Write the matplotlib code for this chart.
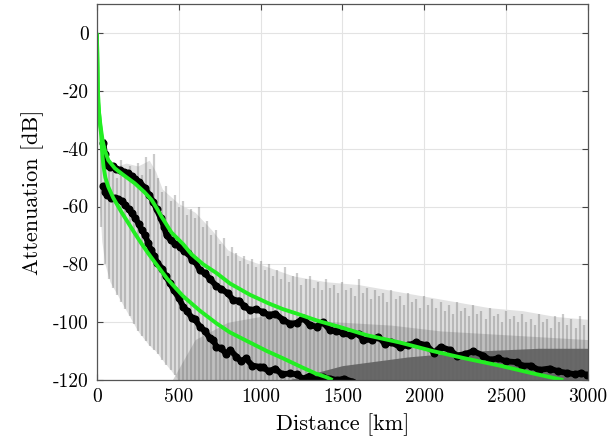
import matplotlib
matplotlib.use("Agg")
import matplotlib.pyplot as plt
import numpy as np

# ---------------- data ----------------
fit_hi_x = [0, 2, 4, 6, 9, 14, 20, 27, 36, 50, 70, 110, 160, 232, 290, 334, 365, 395, 456, 527, 578, 650,
            731, 813, 935, 1050, 1138, 1220, 1350, 1505, 1650, 1851, 2055, 2250, 2462, 2650, 2850]
fit_hi_y = [0, -6, -12, -19, -24, -28, -31, -34, -37.5, -40.8, -44, -46.8, -49, -52, -55, -57.7, -60.5, -63.5,
            -69, -73, -76.5, -80, -83, -86.6, -90.5, -93.5, -95.5, -97, -99.5, -102, -104.5, -107, -110,
            -112.5, -115, -117.5, -120]

fit_lo_x = [0, 2, 4, 6, 9, 14, 20, 26, 31, 36, 41, 52, 69, 100, 151, 190, 232, 275, 314, 370, 430, 527,
            629, 731, 813, 935, 1040, 1138, 1250, 1340, 1403, 1440]
fit_lo_y = [0, -6, -12, -19, -24, -28, -32, -35, -40, -43.5, -46.2, -50, -53.1, -57, -62, -65.5, -69.3,
            -73, -76.2, -80.5, -85, -91, -96, -100.4, -103.5, -107, -110, -112.5, -115.5, -117.8, -119, -120]

mean_hi_x = [40, 50, 65, 80, 100, 120, 140, 165, 190, 212, 235, 260, 293, 320, 345, 365, 390, 410, 426, 450,
             480, 510, 530, 558, 580, 600, 629, 660, 690, 731, 760, 800, 833, 870, 900, 935, 970, 1016,
             1050, 1090, 1138, 1180, 1220, 1260, 1300, 1342, 1380, 1424, 1460, 1505, 1550, 1600, 1627,
             1680, 1720, 1760, 1800, 1851, 1900, 1950, 2014, 2060, 2100, 2157, 2200, 2250, 2300, 2361,
             2400, 2450, 2500, 2564, 2600, 2650, 2700, 2767, 2820, 2870, 2920, 2960, 2995]
mean_hi_y = [-38, -42, -45.5, -46.5, -46, -47, -47.5, -48, -48.5, -49.5, -50.5, -51.5, -53.5, -56, -58.5,
             -61, -64, -67, -70, -71.5, -73, -74, -75.5, -76, -78.5, -79, -82, -83, -85, -87.5, -88.5,
             -90, -92.3, -92.5, -94.5, -95.8, -95.5, -96.5, -97.5, -97, -99.2, -100.5, -100.3, -98.5,
             -101, -101.5, -100, -102.7, -103, -103.8, -104.5, -104, -106.2, -106, -105, -107.5, -107,
             -108.5, -108, -107, -108, -110.5, -108.5, -109.6, -111.5, -111, -110, -111.5, -113, -112.5,
             -113.5, -113.8, -115, -115, -116.5, -116, -117, -117.5, -118, -117.5, -118.3]

mean_lo_x = [40, 50, 65, 85, 110, 130, 151, 175, 195, 212, 235, 255, 273, 295, 314, 330, 350, 370, 400,
             420, 446, 470, 500, 527, 550, 580, 600, 629, 660, 690, 710, 731, 760, 790, 813, 853, 880,
             910, 950, 995, 1016, 1050, 1090, 1130, 1179, 1220, 1260, 1300, 1340, 1380, 1424, 1470,
             1510, 1560]
mean_lo_y = [-53, -55, -56, -57, -57, -57.5, -58, -59.5, -61, -62.3, -64, -66, -68, -70, -72.7, -75, -77,
             -79.5, -81.5, -84, -86.5, -89, -91.5, -94.6, -96, -98.5, -99, -101.5, -103, -105.5, -106,
             -108.5, -109, -111, -109.5, -111.9, -113.5, -112.5, -115, -115.4, -115.5, -117, -116, -118,
             -117.7, -118, -119.5, -118.5, -120, -119, -119.5, -120, -119.5, -120.5]

# spread of the individual realisations (grey band)
light_x = [18, 30, 50, 80, 120, 180, 250, 320, 360, 400, 500, 600, 700, 800, 900, 1000, 1200, 1400,
           1600, 1800, 2000, 2200, 2400, 2600, 2800, 3000]
light_top = [-42, -41, -43, -45, -46, -45, -46, -44, -48, -54, -59, -62, -68, -75, -78, -80, -84, -86,
             -87, -89, -91, -93, -95, -96, -98, -99]
light_bot = [-60, -72, -80, -86, -90, -96, -103, -108, -110, -113, -120, -125, -125, -125, -125, -125,
             -125, -125, -125, -125, -125, -125, -125, -125, -125, -125]

mid_x = [450, 600, 800, 1000, 1200, 1500, 1800, 2100, 2400, 2700, 3000]
mid_top = [-121, -106, -100, -98, -99, -100, -101, -103, -104, -105, -106]

dark_x = [1100, 1500, 1900, 2300, 2700, 3000]
dark_top = [-121, -115, -112, -110, -109, -109]

streaks = [(25, -40), (50, -44), (75, -47), (100, -45), (125, -50), (150, -44), (175, -48), (200, -46),
           (225, -51), (250, -45), (275, -49), (300, -43), (325, -47), (350, -42), (375, -50), (400, -55),
           (425, -53), (450, -58), (475, -56), (500, -60), (525, -58), (550, -63), (575, -61), (600, -64),
           (625, -60), (650, -67), (675, -65), (700, -70), (725, -68), (750, -73), (775, -71), (800, -77),
           (825, -74), (850, -76), (875, -79), (900, -77), (925, -80), (950, -78), (975, -81), (1000, -79),
           (1025, -82), (1050, -80), (1075, -84), (1100, -82), (1125, -85), (1150, -81), (1175, -86),
           (1200, -84), (1225, -83), (1250, -87), (1275, -85), (1300, -84), (1325, -88), (1350, -86),
           (1375, -89), (1400, -85), (1425, -88), (1450, -87), (1475, -90), (1500, -86), (1525, -89),
           (1550, -88), (1575, -91), (1600, -85), (1625, -90), (1650, -88), (1675, -92), (1700, -89),
           (1725, -91), (1750, -90), (1775, -93), (1800, -89), (1825, -92), (1850, -91), (1875, -94),
           (1900, -90), (1925, -93), (1950, -92), (1975, -95), (2000, -91), (2025, -94), (2050, -92),
           (2075, -95), (2100, -93), (2125, -96), (2150, -94), (2175, -97), (2200, -93), (2225, -96),
           (2250, -95), (2275, -98), (2300, -94), (2325, -97), (2350, -96), (2375, -99), (2400, -95),
           (2425, -98), (2450, -97), (2475, -100), (2500, -96), (2525, -99), (2550, -98), (2575, -100),
           (2600, -97), (2625, -100), (2650, -99), (2675, -101), (2700, -97), (2725, -100), (2750, -99),
           (2775, -102), (2800, -98), (2825, -100), (2850, -97), (2875, -101), (2900, -99), (2925, -102),
           (2950, -98), (2975, -101)]

x_ticks = [0, 500, 1000, 1500, 2000, 2500, 3000]
y_ticks = [-120, -100, -80, -60, -40, -20, 0]

# ---------------- figure ----------------
plt.rcParams['font.family'] = ['cmr10', 'DejaVu Serif']
plt.rcParams['axes.unicode_minus'] = False
plt.rcParams['mathtext.fontset'] = 'cm'

fig = plt.figure(figsize=(6.13, 4.43), dpi=100)
ax = fig.add_axes([0.158, 0.142, 0.801, 0.849])

ax.fill_between(light_x, light_top, light_bot, color='#e2e2e2', lw=0, zorder=1)
ax.fill_between(mid_x, mid_top, -125, color='#a0a0a0', alpha=0.5, lw=0, zorder=1.2)
ax.fill_between(dark_x, dark_top, -125, color='#303030', alpha=0.6, lw=0, zorder=1.4)

sx = [s[0] for s in streaks]
st = [s[1] for s in streaks]
sb = np.interp(sx, light_x, light_bot)
ax.vlines(sx, sb, st, colors='#606060', alpha=0.32, lw=1.6, zorder=1.6)

ax.plot(mean_hi_x, mean_hi_y, color='black', lw=4.2, marker='o', ms=4.8, zorder=3)
ax.plot(mean_lo_x, mean_lo_y, color='black', lw=4.2, marker='o', ms=4.8, zorder=3)

ax.plot(fit_hi_x, fit_hi_y, color='#22ee22', lw=2.8, zorder=4, solid_capstyle='butt')
ax.plot(fit_lo_x, fit_lo_y, color='#22ee22', lw=2.8, zorder=4, solid_capstyle='butt')

ax.set_xlim(0, 3000)
ax.set_ylim(-120, 10)
ax.set_xticks(x_ticks)
ax.set_yticks(y_ticks)
ax.tick_params(direction='in', length=4, width=0.8, top=True, right=True, labelsize=14,
               color='#444444', pad=6)
ax.grid(True, color='#e3e3e3', lw=0.8, zorder=0)
ax.set_axisbelow(True)
for s in ax.spines.values():
    s.set_color('#555555')
    s.set_linewidth(0.9)
    s.set_zorder(5)

ax.set_xlabel('Distance [km]', fontsize=16, labelpad=5)
ax.set_ylabel('Attenuation [dB]', fontsize=16, labelpad=6)

fig.savefig('out.png', dpi=100)
